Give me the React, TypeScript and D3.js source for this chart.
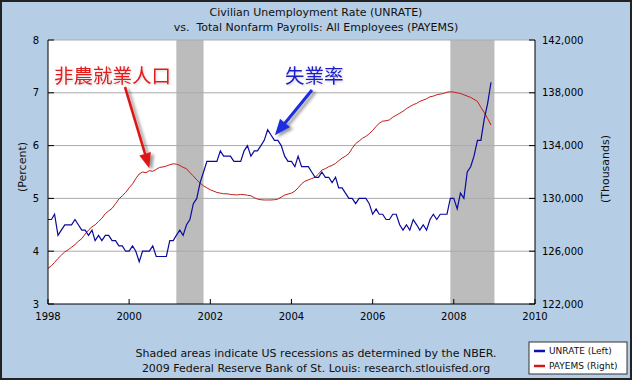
import React from "react";
import * as d3 from "d3";

const TITLE_1 = "Civilian Unemployment Rate (UNRATE)";
const TITLE_2 = "vs.  Total Nonfarm Payrolls: All Employees (PAYEMS)";
const FOOTER_1 = "Shaded areas indicate US recessions as determined by the NBER.";
const FOOTER_2 = "2009 Federal Reserve Bank of St. Louis: research.stlouisfed.org";
const LEFT_LABEL = "(Percent)";
const RIGHT_LABEL = "(Thousands)";
const LEGEND = ["UNRATE (Left)", "PAYEMS (Right)"];
const NOTE_PAYEMS = "非農就業人口";
const NOTE_UNRATE = "失業率";

const START_YEAR = 1998;
const X_TICKS = [1998, 2000, 2002, 2004, 2006, 2008, 2010];
const LEFT_TICKS = [3, 4, 5, 6, 7, 8];
const RIGHT_TICKS = [122000, 126000, 130000, 134000, 138000, 142000];

// Monthly 1998-01 .. 2008-12
const UNRATE = [
  4.6, 4.6, 4.7, 4.3, 4.4, 4.5, 4.5, 4.5, 4.6, 4.5, 4.4, 4.4,
  4.3, 4.4, 4.2, 4.3, 4.2, 4.3, 4.3, 4.2, 4.2, 4.1, 4.1, 4.0,
  4.0, 4.1, 4.0, 3.8, 4.0, 4.0, 4.0, 4.1, 3.9, 3.9, 3.9, 3.9,
  4.2, 4.2, 4.3, 4.4, 4.3, 4.5, 4.6, 4.9, 5.0, 5.3, 5.5, 5.7,
  5.7, 5.7, 5.7, 5.9, 5.8, 5.8, 5.8, 5.7, 5.7, 5.7, 5.9, 6.0,
  5.8, 5.9, 5.9, 6.0, 6.1, 6.3, 6.2, 6.1, 6.1, 6.0, 5.8, 5.7,
  5.7, 5.6, 5.8, 5.6, 5.6, 5.6, 5.5, 5.4, 5.4, 5.5, 5.4, 5.4,
  5.3, 5.4, 5.2, 5.2, 5.1, 5.0, 5.0, 4.9, 5.0, 5.0, 5.0, 4.9,
  4.7, 4.8, 4.7, 4.7, 4.6, 4.6, 4.7, 4.7, 4.5, 4.4, 4.5, 4.4,
  4.6, 4.5, 4.4, 4.5, 4.4, 4.6, 4.7, 4.6, 4.7, 4.7, 4.7, 5.0,
  5.0, 4.8, 5.1, 5.0, 5.5, 5.6, 5.8, 6.1, 6.1, 6.5, 6.8, 7.2,
];

const PAYEMS = [
  124700, 124900, 125150, 125450, 125700, 125950, 126100, 126300, 126500, 126750, 126950, 127300,
  127600, 127850, 128000, 128250, 128500, 128850, 129050, 129250, 129600, 129950, 130200, 130450,
  130800, 131100, 131500, 131850, 132000, 131950, 132100, 132050, 132200, 132350, 132380, 132450,
  132550, 132620, 132600, 132500, 132350, 132250, 131950, 131700, 131400, 131150, 130950, 130800,
  130650, 130550, 130450, 130400, 130350, 130350, 130300, 130280, 130260, 130300, 130280, 130240,
  130200, 130050, 129950, 129900, 129880, 129880, 129880, 129900, 129950, 130100, 130250, 130330,
  130400, 130550, 130800, 131100, 131300, 131400, 131500, 131600, 131850, 132150, 132250, 132400,
  132500, 132650, 132850, 133050, 133200, 133400, 133800, 134150, 134350, 134550, 134700, 134900,
  135150, 135450, 135700, 135850, 135880, 135950, 136150, 136300, 136450, 136600, 136800, 136950,
  137100, 137200, 137350, 137450, 137550, 137700, 137750, 137850, 137900, 137950, 138050, 138080,
  138050, 138000, 137950, 137850, 137750, 137650, 137500, 137350, 136900, 136500, 136050, 135550,
];

const RECESSIONS: [string, string][] = [
  ["2001-03-01", "2001-11-01"],
  ["2007-12-01", "2009-01-01"],
];

// annotation anchors: month index the arrow points to
const PAYEMS_NOTE_MONTH = 30;
const UNRATE_NOTE_MONTH = 67;

const W = 632;
const H = 380;
const M = { left: 48, right: 535, top: 40, bottom: 304 };
const FONT = "'DejaVu Sans', Verdana, sans-serif";
const CJK = "'Noto Sans CJK TC', 'Noto Sans CJK SC', sans-serif";

function arrowPath(sx: number, sy: number, tx: number, ty: number, headLen: number, headW: number, shaftW: number) {
  const dx = tx - sx, dy = ty - sy;
  const L = Math.hypot(dx, dy);
  const ux = dx / L, uy = dy / L;
  const px = -uy, py = ux;
  const bx = tx - ux * headLen, by = ty - uy * headLen;
  const p = [
    [sx + px * shaftW / 2, sy + py * shaftW / 2],
    [bx + px * shaftW / 2, by + py * shaftW / 2],
    [bx + px * headW / 2, by + py * headW / 2],
    [tx, ty],
    [bx - px * headW / 2, by - py * headW / 2],
    [bx - px * shaftW / 2, by - py * shaftW / 2],
    [sx - px * shaftW / 2, sy - py * shaftW / 2],
  ];
  return "M" + p.map((q) => q[0].toFixed(1) + "," + q[1].toFixed(1)).join("L") + "Z";
}

export default function App() {
  const dates = UNRATE.map((_, i) => new Date(START_YEAR, i, 1));
  const x = d3.scaleTime().domain([new Date(1998, 0, 1), new Date(2010, 0, 1)]).range([M.left, M.right]);
  const yL = d3.scaleLinear().domain([3, 8]).range([M.bottom, M.top]);
  const yR = d3.scaleLinear().domain([122000, 142000]).range([M.bottom, M.top]);

  const lineU = d3.line<number>().x((_, i) => x(dates[i])).y((d) => yL(d));
  const lineP = d3.line<number>().x((_, i) => x(dates[i])).y((d) => yR(d));

  const pTip = [x(dates[PAYEMS_NOTE_MONTH]), yR(PAYEMS[PAYEMS_NOTE_MONTH]) - 2.5];
  const uTip = [x(dates[UNRATE_NOTE_MONTH]) + 0.5, yL(UNRATE[UNRATE_NOTE_MONTH]) - 5];

  return (
    <>
      <style>{`body{margin:0;}`}</style>
      <svg width={W} height={H} style={{ display: "block" }}>
        <defs>
          <filter id="shadow" x="-50%" y="-50%" width="200%" height="200%">
            <feDropShadow dx="3" dy="2" stdDeviation="1.6" floodColor="#000" floodOpacity="0.4" />
          </filter>
          <filter id="glow" x="-20%" y="-20%" width="140%" height="140%">
            <feDropShadow dx="1" dy="1" stdDeviation="1" floodColor="#000" floodOpacity="0.18" />
          </filter>
        </defs>
        <rect x={1} y={1} width={W - 2} height={H - 2} fill="#b5cde5" stroke="#222" strokeWidth={2} />
        <text x={316} y={16} textAnchor="middle" fontFamily={FONT} fontSize={11} fill="#111">{TITLE_1}</text>
        <text x={316} y={31} textAnchor="middle" fontFamily={FONT} fontSize={11} fill="#111" style={{ whiteSpace: "pre" }}>{TITLE_2}</text>

        <rect x={M.left} y={M.top} width={M.right - M.left} height={M.bottom - M.top} fill="#fff" />
        {RECESSIONS.map(([a, b], i) => (
          <rect key={i} x={x(new Date(a))} y={M.top} width={x(new Date(b)) - x(new Date(a))} height={M.bottom - M.top} fill="#bcbcbc" />
        ))}
        {LEFT_TICKS.filter((t) => t > 3).map((t) => (
          <line key={t} x1={M.left} x2={M.right} y1={yL(t)} y2={yL(t)} stroke="#aaa" strokeWidth={1} />
        ))}

        <path d={lineP(PAYEMS) || ""} fill="none" stroke="#c41a1a" strokeWidth={1} />
        <path d={lineU(UNRATE) || ""} fill="none" stroke="#0a0a9c" strokeWidth={1.2} />

        <line x1={M.left} x2={M.left} y1={M.top} y2={M.bottom} stroke="#000" />
        <line x1={M.right} x2={M.right} y1={M.top} y2={M.bottom} stroke="#000" />
        <line x1={M.left} x2={M.right} y1={M.bottom} y2={M.bottom} stroke="#000" />

        {LEFT_TICKS.map((t) => (
          <g key={t}>
            <line x1={M.left} x2={M.left + 6} y1={yL(t)} y2={yL(t)} stroke="#000" />
            <text x={39} y={yL(t) + 3.5} textAnchor="end" fontFamily={FONT} fontSize={10} fill="#000">{t}</text>
          </g>
        ))}
        {RIGHT_TICKS.map((t) => (
          <g key={t}>
            <line x1={M.right - 6} x2={M.right} y1={yR(t)} y2={yR(t)} stroke="#000" />
            <text x={542} y={yR(t) + 3.5} fontFamily={FONT} fontSize={10} fill="#000">{d3.format(",")(t)}</text>
          </g>
        ))}
        {X_TICKS.map((t) => (
          <g key={t}>
            <line x1={x(new Date(t, 0, 1))} x2={x(new Date(t, 0, 1))} y1={M.bottom - 5} y2={M.bottom} stroke="#000" />
            <text x={x(new Date(t, 0, 1))} y={320} textAnchor="middle" fontFamily={FONT} fontSize={10} fill="#000">{t}</text>
          </g>
        ))}

        <text transform={`translate(26,167) rotate(-90)`} textAnchor="middle" fontFamily={FONT} fontSize={11} fill="#111">{LEFT_LABEL}</text>
        <text transform={`translate(609,169) rotate(-90)`} textAnchor="middle" fontFamily={FONT} fontSize={11} fill="#111">{RIGHT_LABEL}</text>

        <path d={arrowPath(125, 87, pTip[0], pTip[1], 15, 12, 2.6)} fill="#e01818" filter="url(#shadow)" />
        <path d={arrowPath(312, 90, uTip[0], uTip[1], 16, 13, 3)} fill="#1c2ee0" filter="url(#shadow)" />
        <text x={54} y={83} fontFamily={CJK} fontSize={19.5} fill="#e01e1e" filter="url(#glow)">{NOTE_PAYEMS}</text>
        <text x={285} y={83} fontFamily={CJK} fontSize={19.5} fill="#1c1cc8" filter="url(#glow)">{NOTE_UNRATE}</text>

        <text x={316} y={357} textAnchor="middle" fontFamily={FONT} fontSize={11} fill="#111">{FOOTER_1}</text>
        <text x={316} y={372} textAnchor="middle" fontFamily={FONT} fontSize={11} fill="#111">{FOOTER_2}</text>

        <rect x={529} y={342} width={98} height={32} fill="#fff" stroke="#333" />
        <line x1={534} x2={545} y1={351} y2={351} stroke="#1010b0" strokeWidth={2.5} />
        <line x1={534} x2={545} y1={366} y2={366} stroke="#d01818" strokeWidth={2.5} />
        <text x={549} y={354} fontFamily={FONT} fontSize={9} fill="#111">{LEGEND[0]}</text>
        <text x={549} y={369} fontFamily={FONT} fontSize={9} fill="#111">{LEGEND[1]}</text>
      </svg>
    </>
  );
}
